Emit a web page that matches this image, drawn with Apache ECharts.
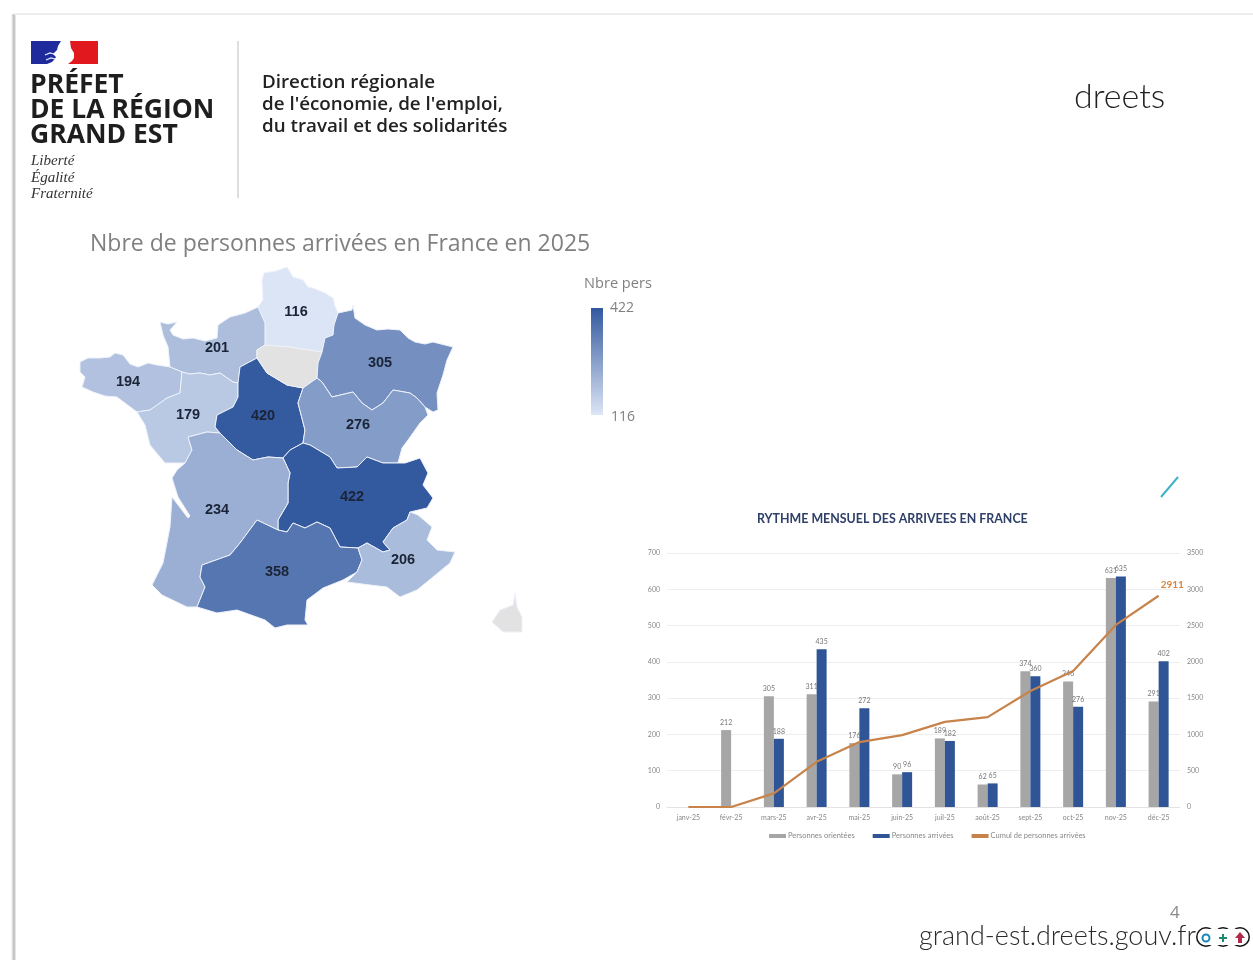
<!DOCTYPE html>
<html>
<head>
<meta charset="utf-8">
<title>Arrivées en France 2025</title>
<script src="https://cdn.jsdelivr.net/npm/echarts@6/dist/echarts.min.js"></script>
<style>
  html, body { margin: 0; padding: 0; background: #fff; }
  #main { width: 1253px; height: 960px; filter: blur(0.45px); }
</style>
</head>
<body>
<div id="main"></div>
<script>
// carte : valeurs par region
const regions = ['Hauts-de-France', 'Normandie', 'Bretagne', 'Pays de la Loire', 'Centre-Val de Loire', 'Grand Est', 'Bourgogne-Franche-Comté', 'Auvergne-Rhône-Alpes', 'Nouvelle-Aquitaine', 'Occitanie', "Provence-Alpes-Côte d'Azur"];
const regionValues = [116, 201, 194, 179, 420, 305, 276, 422, 234, 358, 206];
const scaleLabels = ['422', '116'];

// histogramme mensuel
const months = ['janv-25', 'févr-25', 'mars-25', 'avr-25', 'mai-25', 'juin-25', 'juil-25', 'août-25', 'sept-25', 'oct-25', 'nov-25', 'déc-25'];
const orientees = [null, 212, 305, 311, 176, 90, 189, 62, 374, 346, 631, 291];
const arrivees = [null, null, 188, 435, 272, 96, 182, 65, 360, 276, 635, 402];
const cumul = [0, 0, 188, 623, 895, 991, 1173, 1238, 1598, 1874, 2509, 2911];

// contours des regions, traces a la main (x, y ecran ; y inverse pour le geojson)
const outlines = {
  'Hauts-de-France': [[262,280],[264,273],[276,271],[287,267],[293,277],[303,280],[308,287],[313,288],[325,293],[333,298],[335,306],[338,313],[334,325],[333,335],[325,338],[322,352],[290,347],[265,345],[265,323],[258,307],[263,300]],
  'Normandie': [[160,322],[168,324],[177,322],[170,330],[173,335],[183,339],[193,338],[205,341],[217,338],[218,325],[230,317],[245,313],[258,307],[265,323],[265,345],[257,350],[257,358],[240,367],[238,383],[233,382],[220,373],[210,375],[200,373],[190,374],[182,372],[170,367],[168,347],[163,335]],
  'Bretagne': [[80,362],[88,358],[100,358],[110,357],[115,353],[123,355],[130,364],[138,367],[148,363],[157,365],[170,367],[182,372],[180,393],[167,398],[150,410],[137,412],[125,403],[117,397],[105,396],[93,392],[82,387],[85,377],[80,372]],
  'Pays de la Loire': [[182,372],[190,374],[200,373],[210,375],[220,373],[233,382],[238,383],[238,397],[233,407],[217,415],[215,427],[220,433],[207,432],[188,437],[192,450],[185,463],[165,463],[150,445],[145,425],[137,412],[150,410],[167,398],[180,393]],
  'Centre-Val de Loire': [[240,367],[257,358],[267,373],[287,385],[303,388],[298,403],[305,430],[303,443],[290,450],[283,458],[268,457],[253,460],[237,450],[220,433],[215,427],[217,415],[233,407],[238,397],[238,383]],
  'Ile-de-France': [[265,345],[290,347],[322,352],[318,363],[317,378],[303,388],[287,385],[267,373],[257,358],[257,350]],
  'Grand Est': [[338,313],[352,310],[353,305],[355,318],[365,325],[377,330],[388,329],[400,330],[408,338],[415,342],[425,344],[433,342],[453,347],[447,360],[443,375],[437,393],[438,410],[433,412],[425,407],[417,398],[410,393],[393,390],[383,403],[372,410],[362,403],[353,392],[332,397],[322,382],[317,378],[318,363],[322,352],[325,338],[333,335],[334,325]],
  'Bourgogne-Franche-Comté': [[303,388],[317,378],[322,382],[332,397],[353,392],[362,403],[372,410],[383,403],[393,390],[410,393],[417,398],[425,407],[428,415],[420,423],[408,440],[402,448],[398,463],[383,463],[367,457],[357,467],[337,468],[330,457],[310,445],[303,443],[305,430],[298,403]],
  'Auvergne-Rhône-Alpes': [[283,458],[290,450],[303,443],[310,445],[330,457],[337,468],[357,467],[367,457],[383,463],[398,463],[405,463],[420,458],[428,473],[423,485],[433,498],[427,508],[410,512],[407,520],[393,528],[383,542],[390,550],[383,552],[367,543],[358,548],[340,547],[330,528],[317,522],[305,528],[293,523],[287,532],[278,530],[278,520],[288,503],[288,483],[290,473]],
  'Nouvelle-Aquitaine': [[188,437],[207,432],[220,433],[237,450],[253,460],[268,457],[283,458],[290,473],[288,483],[288,503],[278,520],[278,530],[257,520],[240,543],[230,555],[202,565],[200,577],[205,587],[197,607],[187,607],[162,595],[152,585],[163,563],[170,527],[172,497],[188,518],[190,516],[178,497],[172,478],[177,470],[185,463],[192,450]],
  'Occitanie': [[257,520],[278,530],[287,532],[293,523],[305,528],[317,522],[330,528],[340,547],[358,548],[362,560],[357,572],[343,580],[323,588],[307,600],[305,620],[308,625],[287,625],[275,628],[265,620],[237,610],[217,613],[197,607],[205,587],[200,577],[202,565],[230,555],[240,543]],
  "Provence-Alpes-Côte d'Azur": [[358,548],[367,543],[383,552],[390,550],[383,542],[393,528],[407,520],[410,512],[418,515],[432,527],[427,540],[437,550],[455,552],[450,563],[433,577],[417,590],[400,597],[387,587],[370,585],[347,582],[357,572],[362,560]],
  'Corse': [[515,593],[517,607],[522,617],[522,632],[503,632],[492,622],[500,610],[513,605]]
};
const labelSpots = {
  'Hauts-de-France': [296,312], 'Normandie': [217,348], 'Bretagne': [128,382], 'Pays de la Loire': [188,415],
  'Centre-Val de Loire': [263,416], 'Grand Est': [380,363], 'Bourgogne-Franche-Comté': [358,425],
  'Auvergne-Rhône-Alpes': [352,497], 'Nouvelle-Aquitaine': [217,510], 'Occitanie': [277,572],
  "Provence-Alpes-Côte d'Azur": [403,560], 'Ile-de-France': [290,365], 'Corse': [508,620]
};

const flip = p => [p[0], -p[1]];
const franceGeo = {
  type: 'FeatureCollection',
  features: Object.keys(outlines).map(name => ({
    type: 'Feature',
    properties: { name: name, cp: flip(labelSpots[name]) },
    geometry: { type: 'Polygon', coordinates: [outlines[name].concat([outlines[name][0]]).map(flip)] }
  }))
};
echarts.registerMap('france', franceGeo);

const txt = (x, y, text, font, fill) => ({
  type: 'text', x: x, y: y, silent: true,
  style: { text: text, font: font, fill: fill, textVerticalAlign: 'middle' }
});
const CHART_FONT = 'Lato, "Open Sans", sans-serif';
const HEAD = 'bold 26.5px "Open Sans"';
const SUB = '600 18.8px "Open Sans"';
const MOTTO = 'italic 15px "Liberation Serif"';
const LOW = '#dce5f5';
const HIGH = '#33599f';

const chart = echarts.init(document.getElementById('main'));
const option = {
  animation: false,
  backgroundColor: '#fff',
  textStyle: { fontFamily: CHART_FONT },
  title: [
    { text: 'Nbre de personnes arrivées en France en 2025', left: 85, top: 228,
      textStyle: { fontFamily: '"Open Sans"', fontSize: 23, fontWeight: 'normal', color: '#808080' } },
    { text: 'RYTHME MENSUEL DES ARRIVEES EN FRANCE', left: 752, top: 508,
      textStyle: { fontFamily: CHART_FONT, fontSize: 12.4, fontWeight: 'bold', color: '#2f4068' } }
  ],
  visualMap: {
    type: 'continuous', min: 116, max: 422, seriesIndex: 0, calculable: false, realtime: false,
    left: 576, top: 293, itemWidth: 12, itemHeight: 107, text: null, showLabel: false,
    inRange: { color: [LOW, HIGH] },
    textStyle: { color: 'transparent', fontSize: 1 }
  },
  grid: { left: 667, right: 73, top: 553, height: 254 },
  legend: {
    left: 764, top: 827, itemWidth: 17, itemHeight: 4, itemGap: 18,
    textStyle: { fontSize: 7.5, color: '#888', padding: [0, 0, 0, -3] },
    data: [
      { name: 'Personnes orientées', icon: 'rect' },
      { name: 'Personnes arrivées', icon: 'rect' },
      { name: 'Cumul de personnes arrivées', icon: 'rect', itemStyle: { color: '#c8834b' } }
    ]
  },
  xAxis: {
    type: 'category', data: months,
    axisLine: { lineStyle: { color: '#e2e2e2' } }, axisTick: { show: false },
    axisLabel: { fontSize: 7, color: '#888', margin: 7, interval: 0 }
  },
  yAxis: [
    { type: 'value', min: 0, max: 700, interval: 100, axisLine: { show: false }, axisTick: { show: false },
      axisLabel: { fontSize: 7, color: '#888', margin: 7 }, splitLine: { lineStyle: { color: '#eeeeee' } } },
    { type: 'value', min: 0, max: 3500, interval: 500, position: 'right', axisLine: { show: false }, axisTick: { show: false },
      axisLabel: { fontSize: 7, color: '#888', margin: 7, formatter: v => String(v) }, splitLine: { show: false } }
  ],
  series: [
    {
      type: 'map', map: 'france', aspectScale: 1, roam: false, selectedMode: false, silent: true, showLegendSymbol: false,
      left: 80, top: 267, width: 442, height: 365,
      itemStyle: { areaColor: '#e2e2e2', borderColor: '#eef2fa', borderWidth: 1 },
      label: {
        show: true, fontFamily: '"Liberation Sans"', fontSize: 14.5, fontWeight: 'bold', color: '#1b2436',
        formatter: p => isNaN(p.value) ? '' : p.value
      },
      data: regions.map((name, i) => ({ name: name, value: regionValues[i] }))
    },
    {
      name: 'Personnes orientées', type: 'bar', data: orientees, barWidth: 10, barGap: '0%', itemStyle: { color: '#a6a6a6' },
      label: { show: true, position: 'top', distance: 4, fontSize: 7, color: '#777' }
    },
    {
      name: 'Personnes arrivées', type: 'bar', data: arrivees, barWidth: 10, itemStyle: { color: '#2f5597' },
      label: { show: true, position: 'top', distance: 4, fontSize: 7, color: '#777' }
    },
    {
      name: 'Cumul de personnes arrivées', type: 'line', yAxisIndex: 1, data: cumul, symbol: 'none',
      lineStyle: { color: '#c8834b', width: 2.2 }, itemStyle: { color: '#c8834b' },
      endLabel: { show: true, offset: [-6, -11], fontSize: 10, fontWeight: 'bold', color: '#d8843f', formatter: '{c}' }
    }
  ],
  graphic: [
    // ombre de la diapositive
    { type: 'rect', shape: { x: 11, y: 14, width: 5, height: 946 }, silent: true,
      style: { fill: new echarts.graphic.LinearGradient(0, 0, 1, 0, [{ offset: 0, color: '#ffffff' }, { offset: 0.6, color: '#b9b9b9' }, { offset: 1, color: '#f4f4f4' }]) } },
    { type: 'rect', shape: { x: 14, y: 13, width: 1239, height: 2 }, silent: true, style: { fill: '#ececec' } },
    // logo
    { type: 'polygon', shape: { points: [[31,41],[61,41],[58,46],[57,50],[53,54],[56,57],[54,60],[52,62],[47,64],[31,64]] }, silent: true, style: { fill: '#1f2a9c' } },
    { type: 'polygon', shape: { points: [[70,41],[98,41],[98,64],[68,64],[72,61],[74,58],[74,53],[71,48]] }, silent: true, style: { fill: '#e1191e' } },
    { type: 'polyline', shape: { points: [[45,55],[50,53],[54,54]] }, silent: true, style: { stroke: '#e8ecff', lineWidth: 1.2, fill: null } },
    { type: 'polyline', shape: { points: [[46,60],[51,58],[55,59]] }, silent: true, style: { stroke: '#e8ecff', lineWidth: 1.2, fill: null } },
    txt(30, 85, 'PRÉFET', HEAD, '#1e1e1e'),
    txt(30, 110, 'DE LA RÉGION', HEAD, '#1e1e1e'),
    txt(30, 135, 'GRAND EST', HEAD, '#1e1e1e'),
    txt(31, 161, 'Liberté', MOTTO, '#333'),
    txt(31, 178, 'Égalité', MOTTO, '#333'),
    txt(31, 194, 'Fraternité', MOTTO, '#333'),
    { type: 'line', shape: { x1: 238, y1: 41, x2: 238, y2: 198 }, silent: true, style: { stroke: '#bdbdbd', lineWidth: 1 } },
    txt(262, 83, 'Direction régionale', SUB, '#222'),
    txt(262, 105, "de l'économie, de l'emploi,", SUB, '#222'),
    txt(262, 127, 'du travail et des solidarités', SUB, '#222'),
    txt(1074, 97, 'dreets', '300 34px Lato', '#222'),
    // echelle de la carte : coins de la barre remis a angle droit
    { type: 'rect', shape: { x: 591, y: 308, width: 12, height: 3 }, silent: true, z: 10, style: { fill: HIGH } },
    { type: 'rect', shape: { x: 591, y: 412, width: 12, height: 3 }, silent: true, z: 10, style: { fill: LOW } },
    txt(584, 284, 'Nbre pers', '14.6px "Open Sans"', '#808080'),
    txt(610, 308, scaleLabels[0], '14px "Open Sans"', '#808080'),
    txt(611, 417, scaleLabels[1], '14px "Open Sans"', '#808080'),
    // trait turquoise
    { type: 'line', shape: { x1: 1161, y1: 497, x2: 1178, y2: 477 }, silent: true, style: { stroke: '#3fb2c9', lineWidth: 2 } },
    // pied de page
    txt(1170, 913, '4', '17px "Open Sans"', '#8a8a8a'),
    txt(919, 936, 'grand-est.dreets.gouv.fr', '300 27px Lato', '#2a2a2a'),
    { type: 'circle', shape: { cx: 1206, cy: 937, r: 10 }, silent: true, style: { fill: '#111' } },
    { type: 'circle', shape: { cx: 1223, cy: 937, r: 10 }, silent: true, style: { fill: '#111' } },
    { type: 'circle', shape: { cx: 1240, cy: 937, r: 10 }, silent: true, style: { fill: '#111' } },
    { type: 'circle', shape: { cx: 1206, cy: 937, r: 8.5 }, silent: true, style: { fill: '#fff' } },
    { type: 'circle', shape: { cx: 1223, cy: 937, r: 8.5 }, silent: true, style: { fill: '#fff' } },
    { type: 'circle', shape: { cx: 1240, cy: 937, r: 8.5 }, silent: true, style: { fill: '#fff' } },
    { type: 'rect', shape: { x: 1206, y: 929, width: 34, height: 16 }, silent: true, style: { fill: '#fff' } },
    { type: 'circle', shape: { cx: 1206, cy: 938, r: 3.5 }, silent: true, style: { fill: '#fff', stroke: '#1b88b8', lineWidth: 2 } },
    { type: 'rect', shape: { x: 1219, y: 937, width: 8, height: 2 }, silent: true, style: { fill: '#1d8a6d' } },
    { type: 'rect', shape: { x: 1222, y: 934, width: 2, height: 8 }, silent: true, style: { fill: '#1d8a6d' } },
    { type: 'polygon', shape: { points: [[1240,932],[1245,938],[1242,938],[1242,943],[1238,943],[1238,938],[1235,938]] }, silent: true, style: { fill: '#b02a4b' } }
  ]
};
option && chart.setOption(option);
</script>
</body>
</html>
